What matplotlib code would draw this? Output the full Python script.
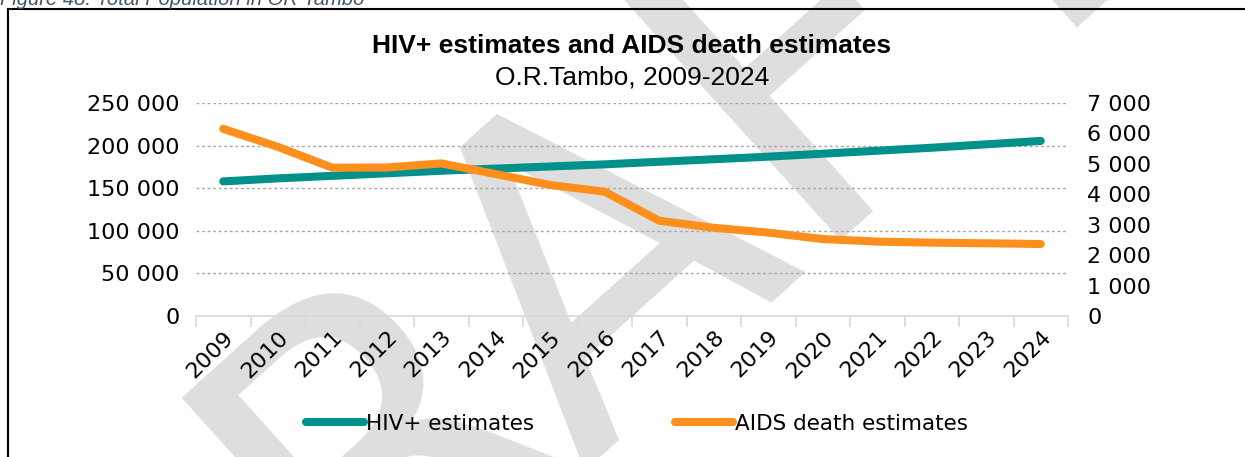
import matplotlib
matplotlib.use('Agg')
import matplotlib.pyplot as plt
from matplotlib.lines import Line2D
from matplotlib.ticker import FuncFormatter, MultipleLocator, FixedLocator

# 数据
years = [str(y) for y in range(2009, 2025)]
hiv_estimates = [158000, 161500, 164500, 167500, 170500, 173000, 175500, 178000,
                 181000, 184000, 187000, 190500, 194000, 197500, 201500, 205500]
aids_deaths = [6150, 5560, 4875, 4880, 5015, 4665, 4305, 4085,
               3130, 2900, 2740, 2530, 2445, 2410, 2390, 2365]

TEAL = '#00918a'
ORANGE = '#ff8f1c'
TICK_FONT = 'DejaVu Sans'
TITLE_FONT = 'Liberation Sans'


def space_thousands(v, pos=None):
    return f"{int(round(v)):,}".replace(',', ' ')


fig = plt.figure(figsize=(12.45, 4.57), dpi=100)
W, H = 1245, 457

# 水印（放在最底层）
fig.text(0.45, 0.37, 'DRAFT', fontsize=320, family=TICK_FONT,
         color='#dedede', rotation=42, ha='center', va='center', zorder=-5)

# 图注（上方被裁掉一半）
fig.text(0.0, 1 - 5 / H, 'Figure 48: Total Population in OR Tambo', fontsize=14.5,
         style='italic', family=TITLE_FONT, color='#44546a', ha='left', va='baseline')

# 外框
fig.add_artist(Line2D([8 / W, 1.0], [1 - 9 / H, 1 - 9 / H], color='black', lw=1.5,
                      transform=fig.transFigure))
fig.add_artist(Line2D([8 / W, 8 / W], [1 - 9 / H, 0.0], color='black', lw=1.5,
                      transform=fig.transFigure))

ax = fig.add_axes([196 / W, 1 - 316 / H, (1068 - 196) / W, (316 - 103) / H])
ax.patch.set_alpha(0)
ax2 = ax.twinx()

x = list(range(len(years)))
l1, = ax.plot(x, hiv_estimates, color=TEAL, lw=5.8, solid_capstyle='round',
              solid_joinstyle='round', label='HIV+ estimates', zorder=3)
l2, = ax2.plot(x, aids_deaths, color=ORANGE, lw=5.8, solid_capstyle='round',
               solid_joinstyle='round', label='AIDS death estimates', zorder=3)

ax.set_xlim(-0.5, len(years) - 0.5)
ax.set_ylim(0, 250000)
ax2.set_ylim(0, 7000)
ax.yaxis.set_major_locator(MultipleLocator(50000))
ax2.yaxis.set_major_locator(MultipleLocator(1000))
ax.yaxis.set_major_formatter(FuncFormatter(space_thousands))
ax2.yaxis.set_major_formatter(FuncFormatter(space_thousands))

ax.grid(axis='y', color='#a6a6a6', linestyle=(0, (2, 2)), lw=1.0)
ax.set_axisbelow(True)

for a in (ax, ax2):
    for s in a.spines.values():
        s.set_visible(False)
ax.spines['bottom'].set_visible(True)
ax.spines['bottom'].set_color('#d9d9d9')
ax.spines['bottom'].set_linewidth(1.2)

# x轴：刻度在分类边界，标签在中间
ax.xaxis.set_major_locator(FixedLocator([i - 0.5 for i in range(len(years) + 1)]))
ax.xaxis.set_minor_locator(FixedLocator(x))
ax.set_xticklabels([], minor=False)
ax.set_xticklabels(years, minor=True, rotation=45, ha='right', va='top',
                   rotation_mode='anchor', fontsize=16, family=TICK_FONT)
ax.tick_params(axis='x', which='major', length=8, color='#d9d9d9', width=1.2)
ax.tick_params(axis='x', which='minor', length=0, pad=8)

ax.tick_params(axis='y', length=0, pad=12, labelsize=16)
ax2.tick_params(axis='y', length=0, pad=14, labelsize=16)
for lab in ax.get_yticklabels() + ax2.get_yticklabels():
    lab.set_family(TICK_FONT)
    lab.set_color('#000000')

# 标题
fig.text(632 / W, 1 - 46 / H, 'HIV+ estimates and AIDS death estimates', fontsize=19,
         fontweight='bold', family=TITLE_FONT, ha='center', va='center')
fig.text(632 / W, 1 - 77 / H, 'O.R.Tambo, 2009-2024', fontsize=19,
         family=TITLE_FONT, ha='center', va='center')

fig.legend(handles=[l1, l2], loc='center', bbox_to_anchor=(637 / W, 1 - 424 / H),
           ncol=2, frameon=False, prop={'family': TICK_FONT, 'size': 15.5},
           handlelength=2.7, handletextpad=0.1, columnspacing=6.5)

plt.savefig('out.png', dpi=100)
plt.close()
